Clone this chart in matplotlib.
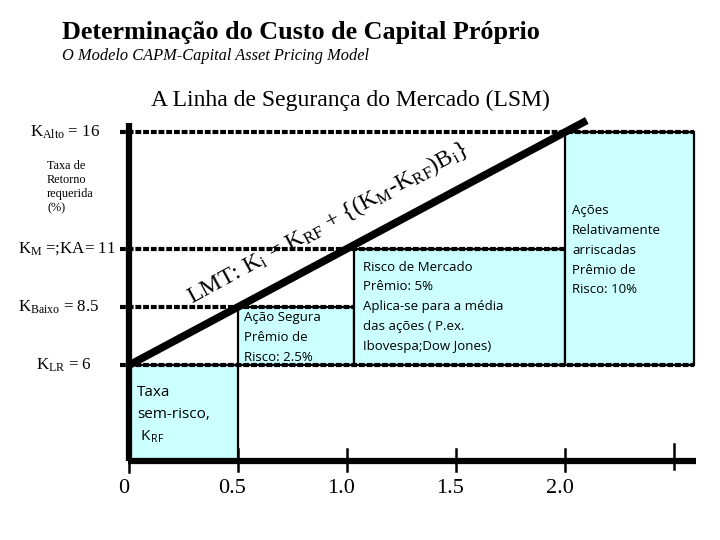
import matplotlib
matplotlib.use('Agg')
import matplotlib.pyplot as plt
from matplotlib.patches import Rectangle

# ---------------- data ----------------
level_values = [16, 11, 8.5, 6]
level_labels = [r'K$_{\mathrm{Alto}}$ = 16', r'K$_{\mathrm{M}}$ =;KA= 11',
                r'K$_{\mathrm{Baixo}}$ = 8.5', r'K$_{\mathrm{LR}}$ = 6']
level_label_x = [30, 18, 18, 36]          # pixel left of label
level_line_end = [2.59, 2.01, 1.03, 2.59]  # beta where dotted line stops

beta_ticks = [0, 0.5, 1.0, 1.5, 2.0, 2.5]
beta_tick_labels = ['0', '0.5', '1.0', '1.5', '2.0', '']

sml_beta = [0, 2.1]
sml_k = [6, 16.5]

box_x0 = [0, 0.5, 1.03, 2.0]
box_x1 = [0.5, 1.03, 2.0, 2.59]
box_k0 = [1.9, 6, 6, 6]
box_k1 = [6, 8.5, 11, 16]
box_texts = ['Taxa\nsem-risco,\n K$_{\\mathsf{RF}}$',
             'Ação Segura\nPrêmio de\nRisco: 2.5%',
             'Risco de Mercado\nPrêmio: 5%\nAplica-se para a média\ndas ações ( P.ex.\nIbovespa;Dow Jones)',
             'Ações\nRelativamente\narriscadas\nPrêmio de\nRisco: 10%']
box_text_off = [(8, 20), (6, 4), (9, 12), (7, 72)]   # pixel offsets from box top-left
box_text_size = [11, 9.5, 9.5, 9.5]

title = 'Determinação do Custo de Capital Próprio'
subtitle = 'O Modelo CAPM-Capital Asset Pricing Model'
heading = 'A Linha de Segurança do Mercado (LSM)'
ylabel_text = 'Taxa de\nRetorno\nrequerida\n(%)'
equation = (r'LMT: K$_{\mathrm{i}}$ = K$_{\mathrm{RF}}$ + {(K$_{\mathrm{M}}$-K$_{\mathrm{RF}}$)B$_{\mathrm{i}}$}')

# ---------------- style ----------------
plt.rcParams['mathtext.fontset'] = 'custom'
plt.rcParams['mathtext.rm'] = 'Liberation Serif'
plt.rcParams['mathtext.it'] = 'Liberation Serif:italic'
plt.rcParams['mathtext.bf'] = 'Liberation Serif:bold'
plt.rcParams['mathtext.sf'] = 'Open Sans'
serif = ['Liberation Serif', 'DejaVu Serif']
sans = ['Open Sans', 'DejaVu Sans']
box_color = '#CCFFFF'

W, H = 720, 540
fig = plt.figure(figsize=(7.2, 5.4), dpi=100)
ax = fig.add_axes([0, 0, 1, 1])
ax.set_xlim(-0.592, 2.711)
ax.set_ylim(-1.50, 21.67)
ax.axis('off')

x_axis_k = 1.9
ytr = ax.get_yaxis_transform()   # x in axes fraction, y in data


def px(x):
    return x / W


def py(y):
    return 1 - y / H

# boxes
for x0, x1, k0, k1, txt, off, fs in zip(box_x0, box_x1, box_k0, box_k1,
                                        box_texts, box_text_off, box_text_size):
    ax.add_patch(Rectangle((x0, k0), x1 - x0, k1 - k0, facecolor=box_color,
                           edgecolor='black', lw=1.6, zorder=1))
    ax.annotate(txt, xy=(x0, k1), xycoords='data',
                xytext=(off[0] * 0.72, -off[1] * 0.72), textcoords='offset points',
                ha='left', va='top', fontsize=fs, family=sans,
                linespacing=1.68 if fs < 10 else 1.6, zorder=5)

# dotted levels
for k, xe, lab, lx in zip(level_values, level_line_end, level_labels, level_label_x):
    ax.plot([-0.04, xe], [k, k], color='black', lw=3.0,
            linestyle=(0, (1.4, 0.45)), dash_capstyle='butt', zorder=3)
    ax.text(px(lx), k, lab, transform=ytr, ha='left', va='center',
            fontsize=12.2, family=serif)

# axes lines
ax.plot([0, 0], [x_axis_k, 16.4], color='black', lw=4.5,
        solid_capstyle='butt', zorder=4)
ax.plot([-0.005, 2.6], [x_axis_k, x_axis_k], color='black', lw=4.5,
        solid_capstyle='butt', zorder=4)
for b, lab in zip(beta_ticks, beta_tick_labels):
    if b == 0:
        ax.plot([b, b], [x_axis_k, x_axis_k - 0.5], color='black', lw=1.8, zorder=4)
    elif lab:
        ax.plot([b, b], [x_axis_k - 0.45, x_axis_k + 0.5], color='black', lw=1.8, zorder=4)
    else:
        ax.plot([b, b], [x_axis_k - 0.35, x_axis_k + 0.7], color='black', lw=1.8, zorder=4)
    if lab:
        ax.annotate(lab, xy=(b, x_axis_k), xycoords='data', xytext=(-4, -13),
                    textcoords='offset points', ha='center', va='top',
                    fontsize=16, family=serif)

# security market line
ax.plot(sml_beta, sml_k, color='black', lw=5.5, solid_capstyle='butt', zorder=6)

# equation along the line
fig.text(px(328), py(223), equation, rotation=28.5, rotation_mode='anchor',
         ha='center', va='center', fontsize=17.3, family=serif, zorder=7)

# titles
fig.text(px(62), py(33), title, ha='left', va='center', fontsize=18.8,
         family=serif, weight='bold')
fig.text(px(62), py(56), subtitle, ha='left', va='center', fontsize=11.8,
         family=serif, style='italic')
fig.text(px(350), py(100), heading, ha='center', va='center', fontsize=17,
         family=serif)
fig.text(px(47), py(187), ylabel_text, ha='left', va='center', fontsize=8.8,
         family=serif, linespacing=1.25)

fig.savefig('out.png', dpi=100)
